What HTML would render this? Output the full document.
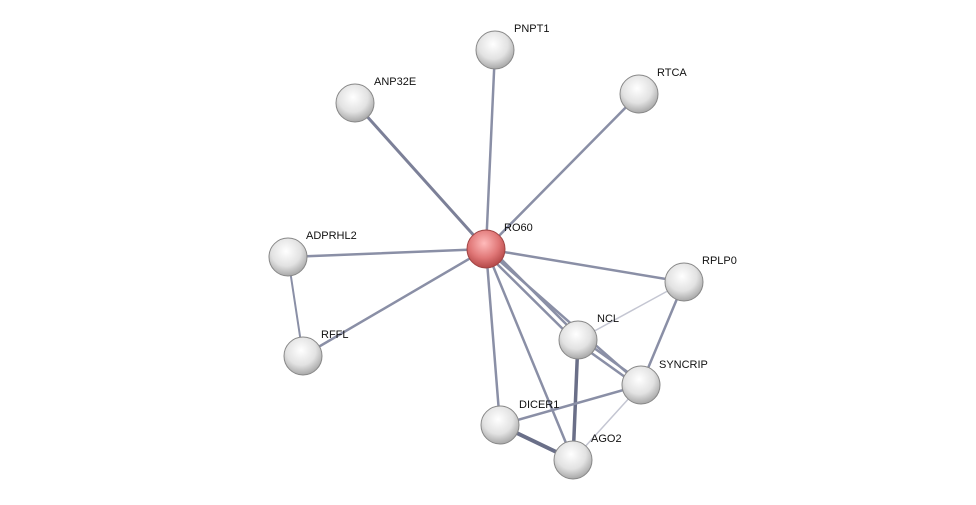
<!DOCTYPE html>
<html><head><meta charset="utf-8"><style>
html,body{margin:0;padding:0;background:#fff;}
svg{display:block;}
text{font-family:"Liberation Sans",sans-serif;font-size:11px;fill:#111;}
</style></head><body>
<svg width="976" height="505" viewBox="0 0 976 505" xmlns="http://www.w3.org/2000/svg">
<defs>
<radialGradient id="g" cx="0.45" cy="0.35" r="0.65">
<stop offset="0" stop-color="#ffffff"/><stop offset="0.6" stop-color="#e2e2e2"/><stop offset="1" stop-color="#a8a8a8"/>
</radialGradient>
<radialGradient id="r" cx="0.45" cy="0.35" r="0.65">
<stop offset="0" stop-color="#fbb"/><stop offset="0.6" stop-color="#e07777"/><stop offset="1" stop-color="#b44848"/>
</radialGradient>
</defs>
<g stroke="#8a8fa6" stroke-width="2.5" stroke-linecap="round">
<line x1="486" y1="249" x2="495" y2="50"/>
<line x1="486" y1="249" x2="639" y2="94"/>
<line x1="486" y1="249" x2="355" y2="103" stroke="#7c8098" stroke-width="3"/>
<line x1="486" y1="249" x2="288" y2="257"/>
<line x1="486" y1="249" x2="303" y2="356"/>
<line x1="486" y1="249" x2="684" y2="282"/>
<line x1="484" y1="251" x2="576" y2="342"/>
<line x1="489" y1="247" x2="580" y2="338"/>
<line x1="486" y1="249" x2="641" y2="385"/>
<line x1="486" y1="249" x2="500" y2="425"/>
<line x1="486" y1="249" x2="573" y2="460"/>
<line x1="288" y1="257" x2="303" y2="356" stroke-width="2"/>
<line x1="578" y1="340" x2="684" y2="282" stroke="#c4c6d2" stroke-width="1.5"/>
<line x1="684" y1="282" x2="641" y2="385"/>
<line x1="576" y1="342" x2="639" y2="387"/>
<line x1="580" y1="338" x2="643" y2="383"/>
<line x1="578" y1="340" x2="573" y2="460" stroke="#6a6f88" stroke-width="3.5"/>
<line x1="500" y1="425" x2="641" y2="385"/>
<line x1="500" y1="425" x2="573" y2="460" stroke="#6a6f88" stroke-width="4"/>
<line x1="641" y1="385" x2="573" y2="460" stroke="#c4c6d2" stroke-width="1.5"/>
</g>
<g stroke="#888" stroke-width="1">
<circle cx="495" cy="50" r="19" fill="url(#g)"/>
<circle cx="639" cy="94" r="19" fill="url(#g)"/>
<circle cx="355" cy="103" r="19" fill="url(#g)"/>
<circle cx="288" cy="257" r="19" fill="url(#g)"/>
<circle cx="303" cy="356" r="19" fill="url(#g)"/>
<circle cx="684" cy="282" r="19" fill="url(#g)"/>
<circle cx="578" cy="340" r="19" fill="url(#g)"/>
<circle cx="641" cy="385" r="19" fill="url(#g)"/>
<circle cx="500" cy="425" r="19" fill="url(#g)"/>
<circle cx="573" cy="460" r="19" fill="url(#g)"/>
<circle cx="486" cy="249" r="19" fill="url(#r)" stroke="#a04444"/>
</g>
<text x="514" y="32">PNPT1</text>
<text x="657" y="76">RTCA</text>
<text x="374" y="85">ANP32E</text>
<text x="504" y="231">RO60</text>
<text x="306" y="239">ADPRHL2</text>
<text x="321" y="338">RFFL</text>
<text x="702" y="264">RPLP0</text>
<text x="597" y="322">NCL</text>
<text x="659" y="368">SYNCRIP</text>
<text x="519" y="408">DICER1</text>
<text x="591" y="442">AGO2</text>
</svg>
</body></html>
